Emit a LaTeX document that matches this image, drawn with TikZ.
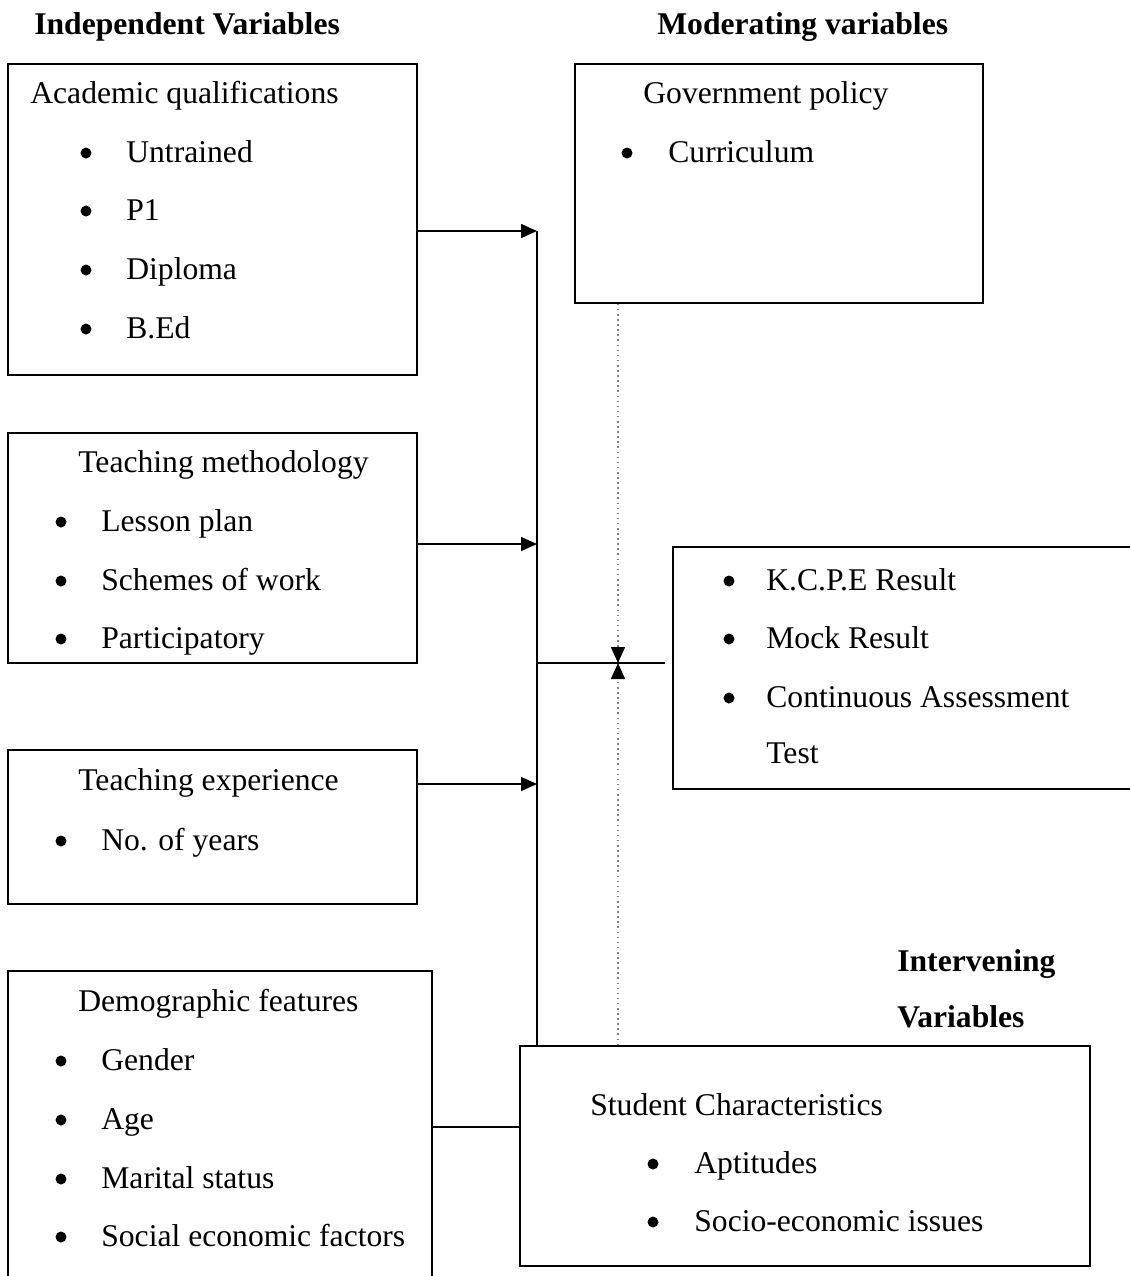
\documentclass[tikz,border=0pt]{standalone}
\usepackage{fontspec}
\setmainfont{Liberation Serif}
\usetikzlibrary{arrows.meta, fit}

\begin{document}
\begin{tikzpicture}
            [x=0.02cm, y=-0.02cm, >={Triangle[length=0.32cm, width=0.28cm]},
             font=\fontsize{18}{22}\selectfont,
             box/.style={draw=black, line width=0.9pt, inner sep=0pt},
             lbl/.style={anchor=base west, inner sep=0pt, yshift=-0.2cm},
             dot/.style={circle, fill=black, inner sep=0pt, minimum size=0.22cm},
             head/.style={lbl, font=\fontsize{18}{22}\selectfont\bfseries},
             wire/.style={line width=0.9pt},
             dots/.style={draw=gray, dotted, line width=0.9pt}]
            \useasboundingbox (0, 0) rectangle (1130, 1276);

            % headings
            \node[head] (indep) at (34, 24) {Independent Variables};
            \node[head] (moder) at (657, 24) {Moderating variables};
            \node[head] (interv) at (897, 961) {Intervening};
            \node[head] (intervb) at (897, 1017) {Variables};

            % boxes
            \node[box, fit={(8, 64) (417, 375)}] (acad) {};
            \node[box, fit={(8, 433) (417, 663)}] (method) {};
            \node[box, fit={(8, 750) (417, 904)}] (exper) {};
            \node[box, fit={(8, 971) (432, 1300)}] (demo) {};
            \node[box, fit={(575, 64) (983, 303)}] (gov) {};
            \node[box, fit={(673, 547) (1145, 789)}] (result) {};
            \node[box, fit={(520, 1046) (1090, 1266)}] (student) {};

            % academic qualifications
            \node[lbl] (acadT) at (30, 93) {Academic qualifications};
            \node[dot] (acadb1) at (86, 153) {};
            \node[lbl] (acad1) at (126, 152) {Untrained};
            \node[dot] (acadb2) at (86, 211) {};
            \node[lbl] (acad2) at (126, 210) {P1};
            \node[dot] (acadb3) at (86, 270) {};
            \node[lbl] (acad3) at (126, 269) {Diploma};
            \node[dot] (acadb4) at (86, 329) {};
            \node[lbl] (acad4) at (126, 328) {B.Ed};

            % teaching methodology
            \node[lbl] (methodT) at (78, 462) {Teaching methodology};
            \node[dot] (methodb1) at (61, 522) {};
            \node[lbl] (method1) at (101, 521) {Lesson plan};
            \node[dot] (methodb2) at (61, 581) {};
            \node[lbl] (method2) at (101, 580) {Schemes of work};
            \node[dot] (methodb3) at (61, 639) {};
            \node[lbl] (method3) at (101, 638) {Participatory};

            % teaching experience
            \node[lbl] (experT) at (78, 780) {Teaching experience};
            \node[dot] (experb1) at (61, 841) {};
            \node[lbl] (exper1) at (101, 840) {No. of years};

            % demographic features
            \node[lbl] (demoT) at (78, 1001) {Demographic features};
            \node[dot] (demob1) at (61, 1061) {};
            \node[lbl] (demo1) at (101, 1060) {Gender};
            \node[dot] (demob2) at (61, 1120) {};
            \node[lbl] (demo2) at (101, 1119) {Age};
            \node[dot] (demob3) at (61, 1179) {};
            \node[lbl] (demo3) at (101, 1178) {Marital status};
            \node[dot] (demob4) at (61, 1237) {};
            \node[lbl] (demo4) at (101, 1236) {Social economic factors};

            % government policy
            \node[lbl] (govT) at (643, 93) {Government policy};
            \node[dot] (govb1) at (627, 153) {};
            \node[lbl] (gov1) at (668, 152) {Curriculum};

            % results
            \node[dot] (resultb1) at (729, 581) {};
            \node[lbl] (result1) at (766, 580) {K.C.P.E Result};
            \node[dot] (resultb2) at (729, 639) {};
            \node[lbl] (result2) at (766, 638) {Mock Result};
            \node[dot] (resultb3) at (729, 698) {};
            \node[lbl] (result3) at (766, 697) {Continuous Assessment};
            \node[lbl] (result4) at (766, 753) {Test};

            % student characteristics
            \node[lbl] (studentT) at (590, 1105) {Student Characteristics};
            \node[dot] (studentb1) at (653, 1164) {};
            \node[lbl] (student1) at (694, 1163) {Aptitudes};
            \node[dot] (studentb2) at (653, 1222) {};
            \node[lbl] (student2) at (694, 1221) {Socio-economic issues};

            % junctions
            \coordinate (busA) at (537, 231);
            \coordinate (busB) at (537, 544);
            \coordinate (busC) at (537, 784);
            \coordinate (busD) at (537, 663);
            \coordinate (resIn) at (665, 663);
            \coordinate (meet) at (618, 663);
            \coordinate (demoOut) at (432, 1127);

            % connectors
            \draw[wire] (busA) -- (busA |- student.north);
            \draw[wire, ->] (acad.east |- busA) -- (busA);
            \draw[wire, ->] (method.east |- busB) -- (busB);
            \draw[wire, ->] (exper.east |- busC) -- (busC);
            \draw[wire] (busD) -- (resIn);
            \draw[wire] (demoOut) -- (demoOut -| student.west);
            \draw[dots, -{Triangle[length=0.32cm, width=0.28cm, black]}] (gov.south -| meet) -- (meet);
            \draw[dots, -{Triangle[length=0.32cm, width=0.28cm, black]}] (student.north -| meet) -- (meet);
        \end{tikzpicture}
\end{document}
